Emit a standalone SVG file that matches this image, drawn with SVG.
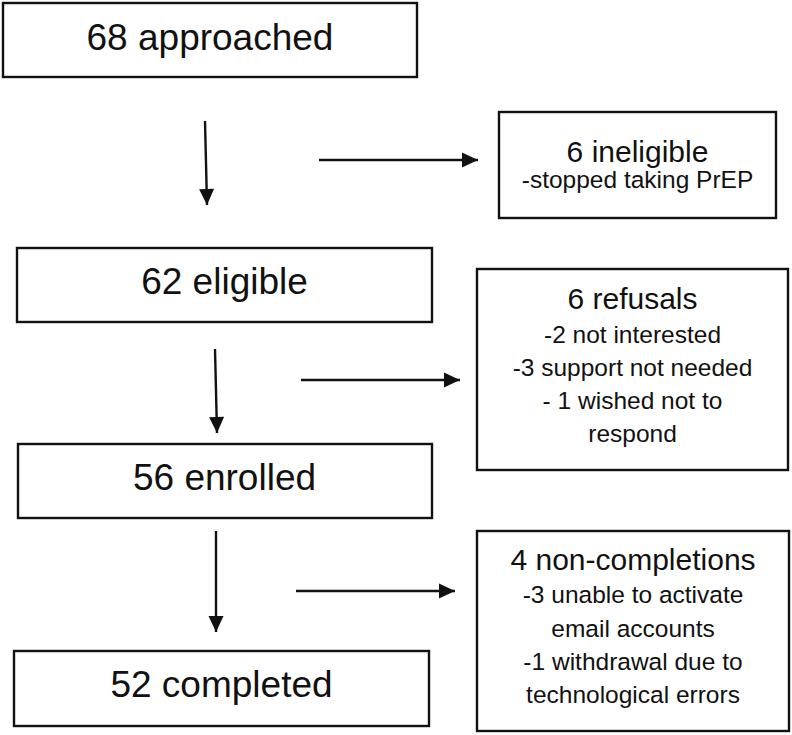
<svg xmlns="http://www.w3.org/2000/svg" width="792" height="735" viewBox="0 0 792 735">
<style>
.box{fill:#fff;stroke:#111;stroke-width:2.4}
.main{font-family:"Liberation Sans",Arial,sans-serif;font-size:37px;fill:#111;text-anchor:middle}
.ttl{font-family:"Liberation Sans",Arial,sans-serif;font-size:30px;fill:#111;text-anchor:middle}
.sub{font-family:"Liberation Sans",Arial,sans-serif;font-size:24.5px;fill:#111;text-anchor:middle}
.conn line{stroke:#111;stroke-width:2.4;fill:none}
</style>
<defs>
<marker id="ah" markerUnits="userSpaceOnUse" markerWidth="17" markerHeight="16" refX="16" refY="8" orient="auto" overflow="visible">
<path d="M0,0.5 L16,8 L0,15.5 z" fill="#111"/>
</marker>
</defs>
<rect width="792" height="735" fill="#fff"/>
<g id="n-approached">
<rect class="box" x="3" y="3" width="414" height="74"/>
<text class="main" x="210" y="50">68 approached</text>
</g>
<g id="n-ineligible">
<rect class="box" x="499" y="112" width="277" height="106"/>
<text class="ttl" x="637.5" y="162">6 ineligible</text>
<text class="sub" x="637.5" y="188">-stopped taking PrEP</text>
</g>
<g id="n-eligible">
<rect class="box" x="17" y="248" width="415" height="74"/>
<text class="main" x="224.5" y="294">62 eligible</text>
</g>
<g id="n-refusals">
<rect class="box" x="477" y="269" width="311" height="201"/>
<text class="ttl" x="632.5" y="309">6 refusals</text>
<text class="sub" x="632.5" y="343">-2 not interested</text>
<text class="sub" x="632.5" y="376">-3 support not needed</text>
<text class="sub" x="632.5" y="409">- 1 wished not to</text>
<text class="sub" x="632.5" y="442">respond</text>
</g>
<g id="n-enrolled">
<rect class="box" x="18" y="444" width="414" height="74"/>
<text class="main" x="224.5" y="490">56 enrolled</text>
</g>
<g id="n-noncompletions">
<rect class="box" x="477" y="531" width="312" height="200"/>
<text class="ttl" x="633" y="570">4 non-completions</text>
<text class="sub" x="633" y="603">-3 unable to activate</text>
<text class="sub" x="633" y="637">email accounts</text>
<text class="sub" x="633" y="670">-1 withdrawal due to</text>
<text class="sub" x="633" y="703">technological errors</text>
</g>
<g id="n-completed">
<rect class="box" x="14" y="651" width="415" height="75"/>
<text class="main" x="221.5" y="697">52 completed</text>
</g>
<g id="connectors" class="conn">
<line x1="205" y1="121" x2="207" y2="205" marker-end="url(#ah)"/>
<line x1="319" y1="160" x2="478" y2="160" marker-end="url(#ah)"/>
<line x1="215" y1="349" x2="217" y2="433" marker-end="url(#ah)"/>
<line x1="301" y1="380" x2="460" y2="380" marker-end="url(#ah)"/>
<line x1="216" y1="531" x2="216" y2="632" marker-end="url(#ah)"/>
<line x1="296" y1="591" x2="455" y2="591" marker-end="url(#ah)"/>
</g>
</svg>
